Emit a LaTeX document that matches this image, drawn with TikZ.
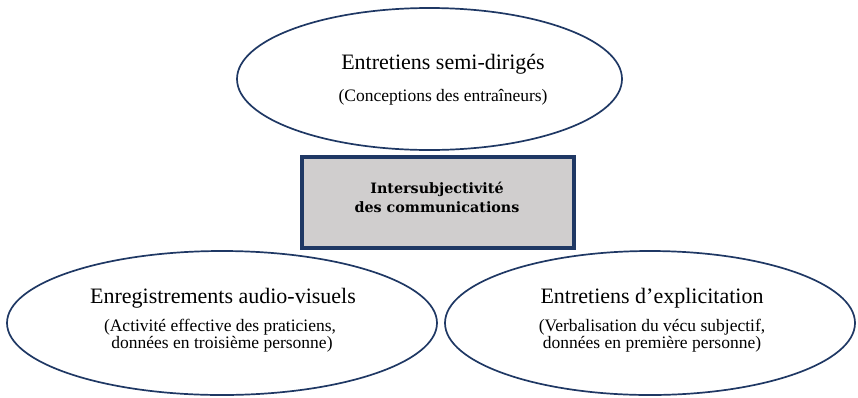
\documentclass[tikz,border=0pt]{standalone}
\usepackage{fontspec}
\setmainfont{Liberation Serif}
\newfontfamily\boxfont{DejaVu Serif}
\usetikzlibrary{shapes.geometric}
\definecolor{navy}{HTML}{1F3864}
\definecolor{boxgray}{HTML}{D0CECE}
\begin{document}
\begin{tikzpicture}[x=1pt,y=-1pt,
  oval/.style={ellipse, draw=navy, line width=1.7pt, inner sep=0pt, fill=white},
  ttl/.style={anchor=base, inner sep=0pt, font=\fontsize{22}{26}\selectfont},
  sub/.style={anchor=base, inner sep=0pt, font=\fontsize{17.5}{20}\selectfont},
  centerbox/.style={draw=navy, line width=4pt, fill=boxgray, inner sep=0pt},
  boxtxt/.style={anchor=base, inner sep=0pt, font=\boxfont\bfseries\fontsize{14.3}{18}\selectfont}]
\path[use as bounding box] (0,0) rectangle (858,397);
\node[oval, minimum width=385pt, minimum height=142pt] (semi) at (429.5,79) {};
\node[ttl] (semi-t) at (443,69) {Entretiens semi-dirigés};
\node[sub] (semi-s) at (443,101) {(Conceptions des entraîneurs)};
\node[oval, minimum width=430pt, minimum height=144pt] (audio) at (222,323) {};
\node[ttl] (audio-t) at (223,303) {Enregistrements audio-visuels};
\node[sub] (audio-s1) at (220,331) {(Activité effective des praticiens,};
\node[sub] (audio-s2) at (222,348.5) {données en troisième personne)};
\node[oval, minimum width=410pt, minimum height=144pt] (explic) at (650,323) {};
\node[ttl] (explic-t) at (652,303) {Entretiens d’explicitation};
\node[sub] (explic-s1) at (652,331) {(Verbalisation du vécu subjectif,};
\node[sub] (explic-s2) at (652,348.5) {données en première personne)};
\node[centerbox, minimum width=272pt, minimum height=91pt] (inter) at (438,202.5) {};
\node[boxtxt] (inter-1) at (437,193.5) {Intersubjectivité};
\node[boxtxt] (inter-2) at (437,212.5) {des communications};
\end{tikzpicture}
\end{document}
